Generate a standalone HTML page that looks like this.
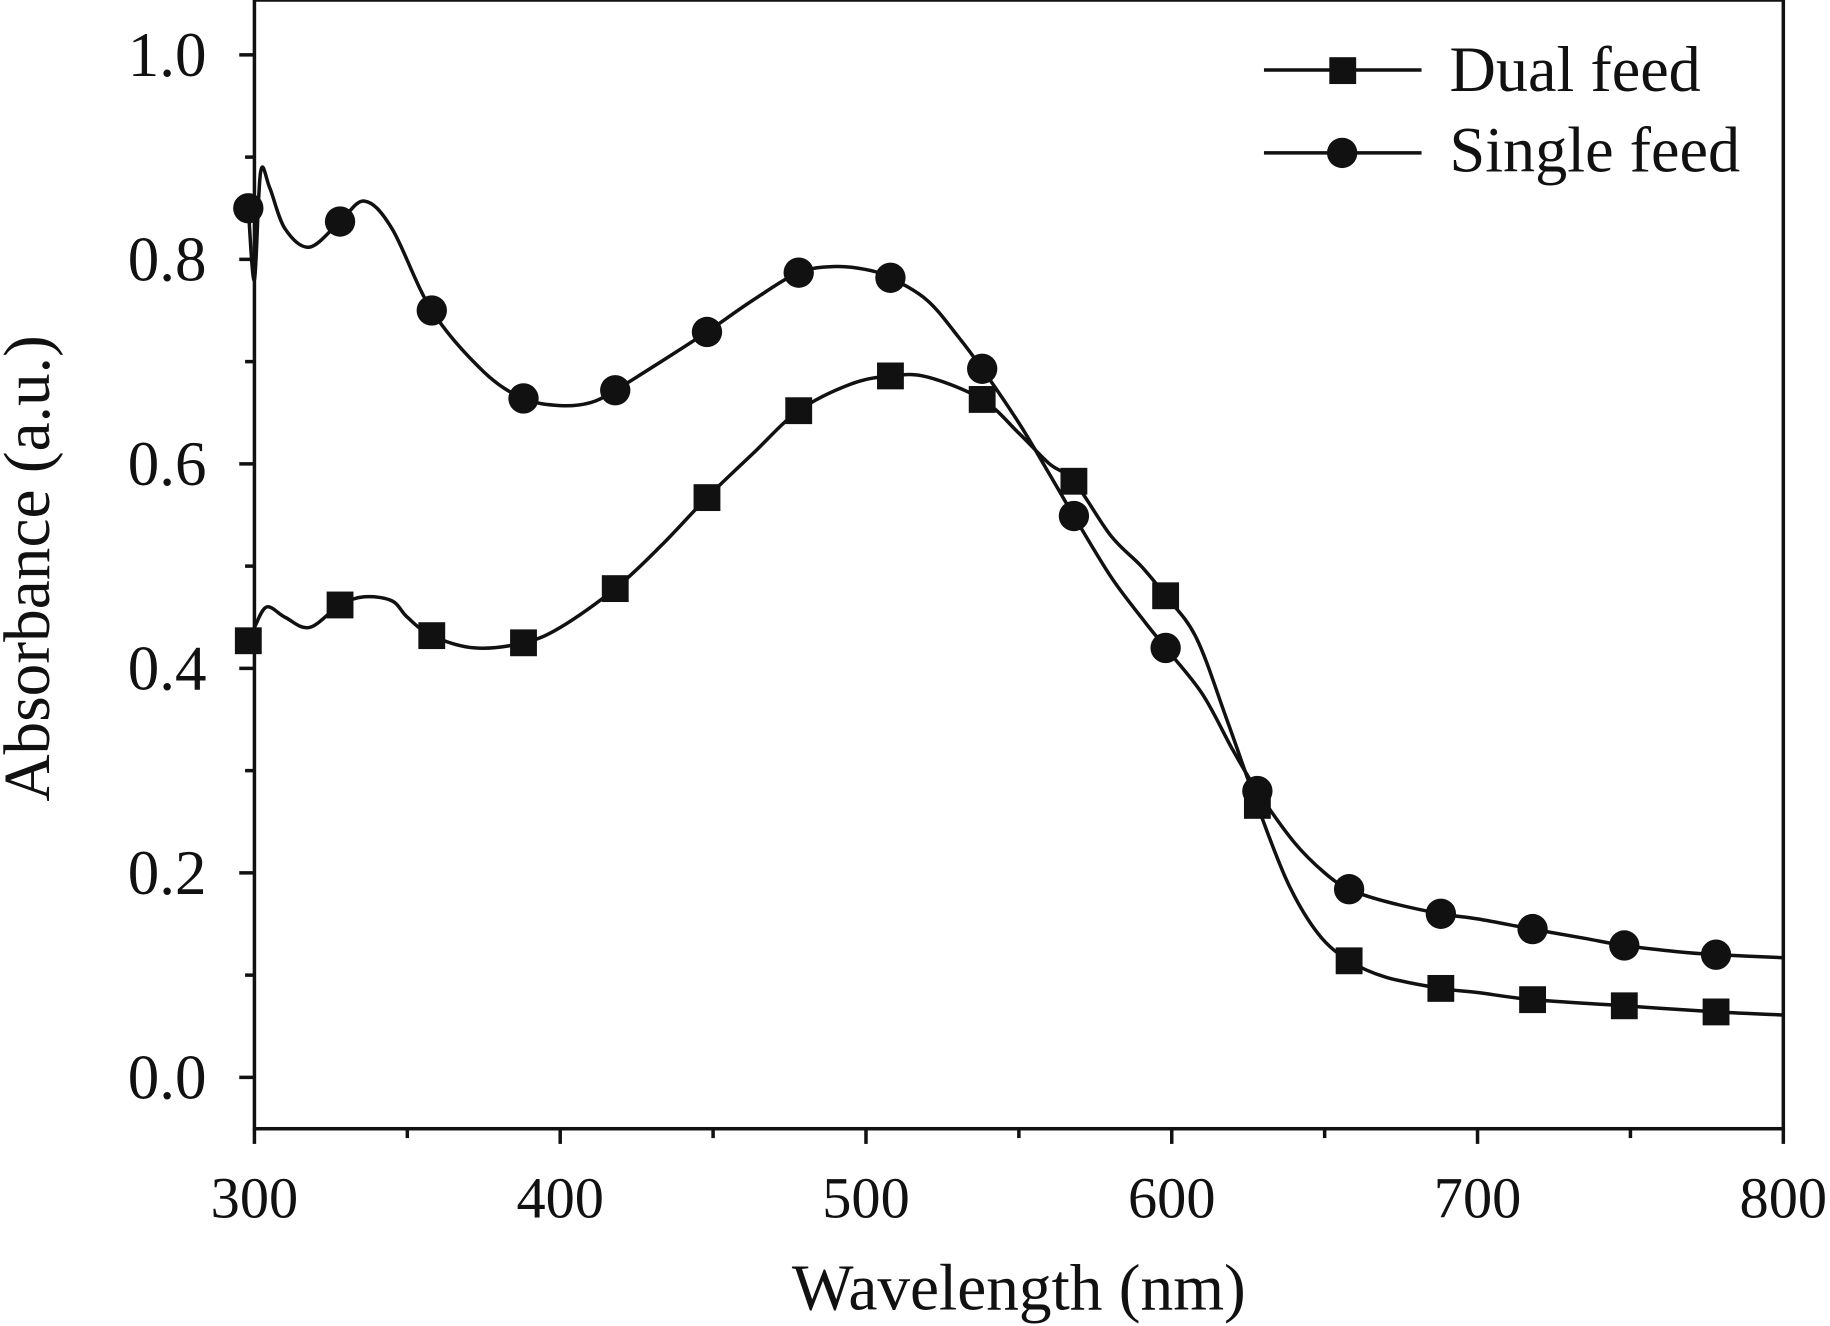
<!DOCTYPE html>
<html><head><meta charset="utf-8"><style>html,body{margin:0;padding:0;background:#fff}svg{display:block}text{font-family:"Liberation Serif",serif;fill:#111}</style></head>
<body>
<svg id="chart" width="1830" height="1326" viewBox="0 0 1568 1136" preserveAspectRatio="none" xmlns="http://www.w3.org/2000/svg">
<rect x="218" y="0" width="1310" height="967" fill="none" stroke="#111" stroke-width="3"/>
<g id="ticks"></g>
<g id="series"></g>
<text x="873" y="1122" font-size="56" text-anchor="middle">Wavelength (nm)</text>
<text transform="translate(42,487) rotate(-90)" font-size="56" text-anchor="middle">Absorbance (a.u.)</text>
<g>
<line x1="1083" y1="60" x2="1218" y2="60" stroke="#111" stroke-width="3"/>
<rect x="1139" y="49" width="23" height="23" fill="#111"/>
<text x="1242" y="78" font-size="55">Dual feed</text>
<line x1="1083" y1="131" x2="1218" y2="131" stroke="#111" stroke-width="3"/>
<circle cx="1150" cy="131" r="13" fill="#111"/>
<text x="1242" y="147" font-size="55">Single feed</text>
</g>
</svg>
<script>
const xTicks=[300,400,500,600,700,800];
const yTicks=[0.0,0.2,0.4,0.6,0.8,1.0];
const markerX=[298,328,358,388,418,448,478,508,538,568,598,628,658,688,718,748,778];
const dualMarkers=[0.427,0.462,0.432,0.425,0.478,0.567,0.652,0.686,0.663,0.583,0.471,0.266,0.114,0.087,0.076,0.070,0.064];
const singleMarkers=[0.850,0.837,0.750,0.664,0.672,0.729,0.787,0.782,0.693,0.549,0.420,0.280,0.184,0.160,0.145,0.129,0.120];
const dualCurveX=[298,300,304,310,318,328,336,345,350,358,372,388,400,418,433,448,463,478,495,508,520,538,550,560,568,580,590,598,608,618,628,638,648,658,670,688,700,718,748,778,800];
const dualCurveY=[0.427,0.44,0.46,0.45,0.44,0.462,0.47,0.466,0.45,0.432,0.42,0.425,0.44,0.478,0.52,0.567,0.61,0.652,0.678,0.686,0.685,0.663,0.63,0.60,0.583,0.53,0.50,0.471,0.43,0.35,0.266,0.19,0.14,0.114,0.098,0.087,0.083,0.076,0.070,0.064,0.061];
const singleCurveX=[298,300,302,305,310,318,328,336,345,358,375,388,400,410,418,433,448,463,478,490,500,508,520,530,538,550,560,568,580,590,598,610,620,628,640,650,658,670,688,700,718,735,748,765,778,800];
const singleCurveY=[0.85,0.78,0.885,0.87,0.83,0.812,0.837,0.857,0.83,0.75,0.69,0.664,0.657,0.66,0.672,0.70,0.729,0.76,0.787,0.793,0.79,0.782,0.76,0.725,0.693,0.64,0.59,0.549,0.49,0.45,0.420,0.375,0.32,0.28,0.23,0.20,0.184,0.172,0.160,0.155,0.145,0.136,0.129,0.123,0.120,0.117];
const NS="http://www.w3.org/2000/svg";
const X=v=>218+(v-300)*2.62;
const Y=v=>923-v*876;
function mk(tag,attrs,parent){const e=document.createElementNS(NS,tag);for(const k in attrs)e.setAttribute(k,attrs[k]);parent.appendChild(e);return e;}
const tg=document.getElementById('ticks');
xTicks.forEach(t=>{
 const l=mk('line',{x1:X(t),x2:X(t),y1:967,y2:980,stroke:'#111','stroke-width':3},tg);
 
 
 const tx=mk('text',{x:X(t),y:1043,'font-size':50,'text-anchor':'middle'},tg);tx.textContent=t;
 
 
 if(t<800){const m=mk('line',{x1:X(t+50),x2:X(t+50),y1:967,y2:975,stroke:'#111','stroke-width':3},tg);
 
 }
});
yTicks.forEach(t=>{
 const l=mk('line',{x1:205,x2:218,y1:Y(t),y2:Y(t),stroke:'#111','stroke-width':3},tg);
 
 
 const tx=mk('text',{x:177,y:Y(t)+18,'font-size':54,'text-anchor':'end'},tg);tx.textContent=t.toFixed(1);
 
 
 if(t<1.0){const m=mk('line',{x1:210,x2:218,y1:Y(t+0.1),y2:Y(t+0.1),stroke:'#111','stroke-width':3},tg);
 
 }
});
const sg=document.getElementById('series');
function curve(xs,ys,name){
 const P=xs.map((x,i)=>[X(x),Y(ys[i])]);
 let d='M'+P[0][0]+','+P[0][1];
 for(let i=0;i<P.length-1;i++){
  const p0=P[Math.max(i-1,0)],p1=P[i],p2=P[i+1],p3=P[Math.min(i+2,P.length-1)];
  const c1=[p1[0]+(p2[0]-p0[0])/6,p1[1]+(p2[1]-p0[1])/6];
  const c2=[p2[0]-(p3[0]-p1[0])/6,p2[1]-(p3[1]-p1[1])/6];
  d+=' C'+c1+' '+c2+' '+p2;
 }
 const p=mk('path',{d:d,fill:'none',stroke:'#111','stroke-width':3,'stroke-linejoin':'round'},sg);
 
 
}
curve(dualCurveX,dualCurveY,'dual-feed-line');
curve(singleCurveX,singleCurveY,'single-feed-line');
markerX.forEach((x,i)=>{
 const r=mk('rect',{x:X(x)-11.5,y:Y(dualMarkers[i])-11.5,width:23,height:23,fill:'#111'},sg);
 
 
 const c=mk('circle',{cx:X(x),cy:Y(singleMarkers[i]),r:13,fill:'#111'},sg);
 
 
});
</script>
</body></html>
